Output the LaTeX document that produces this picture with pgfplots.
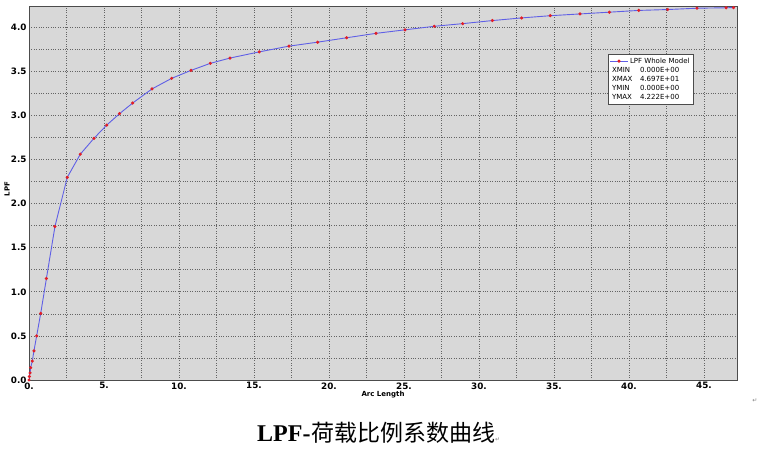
\documentclass[border=0pt]{standalone}
\usepackage{fontspec}
\usepackage{pgfplots}
\pgfplotsset{compat=1.18}
\setmainfont{Liberation Serif}
\setsansfont{DejaVu Sans}
\newfontfamily\cjk{Noto Sans CJK SC}
\newfontfamily\symf{DejaVu Sans}
\definecolor{bgplot}{RGB}{216,216,216}
\definecolor{gridc}{RGB}{100,100,100}
\definecolor{linec}{RGB}{95,95,230}
\definecolor{markc}{RGB}{225,30,40}
\begin{document}
\begin{tikzpicture}
\useasboundingbox (0,0) rectangle (760pt,-451pt);
\begin{axis}[
  at={(29pt,-6pt)}, anchor=north west,
  scale only axis, width=708pt, height=374pt,
  xmin=0, xmax=47.2, ymin=0, ymax=4.24,
  axis background/.style={fill=bgplot},
  axis line style={draw=gray!60!black, line width=1pt},
  xtick={0,5,...,45},
  xticklabels={0.,5.,10.,15.,20.,25.,30.,35.,40.,45.},
  ytick={0,0.5,...,4.0},
  minor x tick num=1, minor y tick num=1,
  grid=both,
  major grid style={gridc, dotted, line width=0.7pt},
  minor grid style={gridc, dotted, line width=0.7pt},
  tick style={draw=none},
  /pgf/number format/assume math mode=true,
  y tick label style={/pgf/number format/fixed, /pgf/number format/fixed zerofill, /pgf/number format/precision=1, xshift=1pt},
  ticklabel style={font=\sffamily\bfseries\fontsize{8.8}{9}\selectfont},
  x tick label style={yshift=1pt},
  xlabel={Arc Length}, ylabel={LPF},
  label style={font=\sffamily\bfseries\fontsize{7}{8}\selectfont},
  xlabel style={at={(axis description cs:0.5,-0.04)}, anchor=center},
  ylabel style={at={(axis description cs:-0.031,0.511)}, anchor=center},
  legend style={at={(0.818,0.872)}, anchor=north west,
    font=\sffamily\fontsize{7}{8}\selectfont, draw=gray!60!black, line width=0.8pt,
    fill=white, row sep=-1.5pt, inner sep=1.5pt},
  legend cell align=left,
]
\addplot[color=linec, line width=0.9pt, mark=*, mark size=1.1pt,
  mark options={fill=markc, draw=markc}] coordinates {
(0,0) (0.02,0.04) (0.07,0.08) (0.11,0.14) (0.22,0.215) (0.33,0.33)
(0.51,0.50) (0.78,0.755) (1.16,1.15) (1.73,1.74) (2.55,2.297)
(3.42,2.56) (4.33,2.74) (5.18,2.89) (6.04,3.02) (6.91,3.14)
(8.20,3.30) (9.51,3.42) (10.80,3.51) (12.09,3.59) (13.40,3.65)
(15.35,3.72) (17.33,3.785) (19.24,3.83) (21.18,3.88) (23.13,3.93)
(25.07,3.97) (27.02,4.01) (28.91,4.04) (30.89,4.075) (32.84,4.105)
(34.75,4.13) (36.73,4.15) (38.69,4.17) (40.65,4.19) (42.58,4.20)
(44.53,4.215) (46.47,4.22) (46.97,4.222)
};
\addlegendentry{LPF Whole Model}
\addlegendimage{empty legend}
\addlegendentry{\hspace*{-18pt}\makebox[28pt][l]{XMIN}0.000E+00}
\addlegendimage{empty legend}
\addlegendentry{\hspace*{-18pt}\makebox[28pt][l]{XMAX}4.697E+01}
\addlegendimage{empty legend}
\addlegendentry{\hspace*{-18pt}\makebox[28pt][l]{YMIN}0.000E+00}
\addlegendimage{empty legend}
\addlegendentry{\hspace*{-18pt}\makebox[28pt][l]{YMAX}4.222E+00}
\end{axis}
\node[anchor=base west, inner sep=0pt] at (257pt,-441pt)
  {\fontsize{24}{24}\selectfont\bfseries LPF-\hspace{0.5pt}\mdseries\cjk\fontsize{23}{23}\selectfont 荷载比例系数曲线\symf\fontsize{6}{6}\selectfont\color{gray}↵};
\node[inner sep=0pt] at (755pt,-401pt) {\symf\fontsize{6}{6}\selectfont\color{gray}↵};
\end{tikzpicture}
\end{document}
